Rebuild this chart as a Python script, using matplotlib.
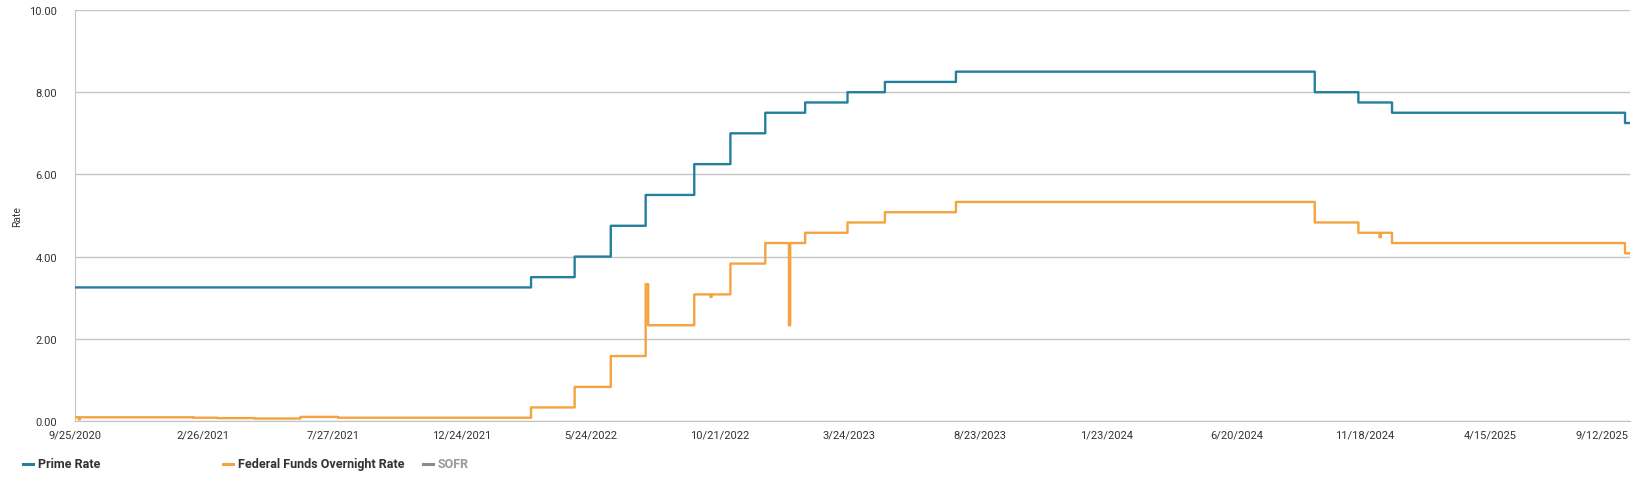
import matplotlib
matplotlib.use("Agg")
import matplotlib.pyplot as plt
from matplotlib.lines import Line2D
from matplotlib.transforms import ScaledTranslation
import numpy as np
import pandas as pd
from pandas.tseries.holiday import USFederalHolidayCalendar
from pandas.tseries.offsets import CustomBusinessDay

plt.rcParams['font.family'] = ['Roboto', 'DejaVu Sans']

# --- data ---
start_date = "2020-09-25"
end_date = "2025-09-24"

# prime rate: date it changed, new level
prime_dates = ["2020-09-25", "2022-03-17", "2022-05-05", "2022-06-16", "2022-07-28",
               "2022-09-22", "2022-11-03", "2022-12-15", "2023-02-02", "2023-03-23",
               "2023-05-04", "2023-07-27", "2024-09-19", "2024-11-08", "2024-12-19",
               "2025-09-18"]
prime_levels = [3.25, 3.50, 4.00, 4.75, 5.50,
                6.25, 7.00, 7.50, 7.75, 8.00,
                8.25, 8.50, 8.00, 7.75, 7.50,
                7.25]

# federal funds overnight rate: date it changed, new level
fed_dates = ["2020-09-25", "2021-02-15", "2021-03-15", "2021-04-26", "2021-06-17",
             "2021-08-02", "2022-03-17", "2022-05-05", "2022-06-16", "2022-07-28",
             "2022-08-01", "2022-09-22", "2022-11-03", "2022-12-15", "2023-02-02",
             "2023-03-23", "2023-05-04", "2023-07-27", "2024-09-19", "2024-11-08",
             "2024-12-19", "2025-09-18"]
fed_levels = [0.09, 0.08, 0.07, 0.06, 0.10,
              0.08, 0.33, 0.83, 1.58, 3.33,
              2.33, 3.08, 3.83, 4.33, 4.58,
              4.83, 5.08, 5.33, 4.83, 4.58,
              4.33, 4.08]

# single-day prints that stick out of the steps
fed_odd_dates = ["2020-09-30", "2022-10-12", "2023-01-13", "2024-12-05"]
fed_odd_values = [0.04, 3.02, 2.33, 4.47]

tick_dates = ["9/25/2020", "2/26/2021", "7/27/2021", "12/24/2021", "5/24/2022",
              "10/21/2022", "3/24/2023", "8/23/2023", "1/23/2024", "6/20/2024",
              "11/18/2024", "4/15/2025", "9/12/2025"]

# --- build daily series on business days ---
bday = CustomBusinessDay(calendar=USFederalHolidayCalendar())
days = pd.date_range(start_date, end_date, freq=bday)

def steps(dates, levels):
    s = pd.Series(levels, index=pd.to_datetime(dates))
    return s.reindex(days.union(s.index)).ffill().reindex(days)

prime = steps(prime_dates, prime_levels)
fed = steps(fed_dates, fed_levels)
fed.loc[pd.to_datetime(fed_odd_dates)] = fed_odd_values

x = np.arange(len(days))

fig = plt.figure(figsize=(16.36, 4.81), dpi=100)
ax = fig.add_axes([75 / 1636, 1 - 422 / 481, (1630 - 75) / 1636, (422 - 11) / 481])

blue = '#23809c'
orange = '#f4a340'
ax.plot(x, prime.values, color=blue, lw=1.7, drawstyle='steps-post', zorder=3)
ax.plot(x, fed.values, color=orange, lw=1.7, drawstyle='steps-post', zorder=3)

ax.set_xlim(0, len(days) - 1)
ax.set_ylim(0, 10)
ax.set_yticks([0, 2, 4, 6, 8, 10])
ax.set_yticklabels([f"{v:.2f}" for v in [0, 2, 4, 6, 8, 10]])
ax.grid(axis='y', color='#c4c4c4', lw=1.0)
ax.set_axisbelow(True)
for side in ['top', 'right']:
    ax.spines[side].set_visible(False)
ax.spines['left'].set_color('#c4c4c4')
ax.spines['bottom'].set_color('#c4c4c4')

tick_pos = [days.get_indexer([pd.Timestamp(d)], method='nearest')[0] for d in tick_dates]
ax.set_xticks(tick_pos)
ax.set_xticklabels(tick_dates)
ax.tick_params(axis='both', length=0, labelsize=8, colors='#333333')
ax.tick_params(axis='x', pad=6)
ax.tick_params(axis='y', pad=13)
last = ax.get_xticklabels()[-1]
last.set_ha('right')
last.set_transform(last.get_transform() + ScaledTranslation(8 / 100, 0, fig.dpi_scale_trans))

ax.set_ylabel("Rate", fontsize=7.5, color='#333333')
ax.yaxis.set_label_coords((22 - 75) / (1630 - 75), 0.5)

# legend drawn by hand at the bottom
leg_y = 1 - 465 / 481
items = [("Prime Rate", blue, '#333333', 23),
         ("Federal Funds Overnight Rate", orange, '#333333', 223),
         ("SOFR", '#8a8a8a', '#9a9a9a', 423)]
for label, lc, tc, px in items:
    fig.add_artist(Line2D([px / 1636, (px + 10) / 1636], [leg_y, leg_y], color=lc, lw=2.2))
    fig.text((px + 15) / 1636, leg_y, label, fontsize=9, color=tc, fontweight='bold',
             va='center', ha='left')

fig.savefig("out.png", dpi=100)
